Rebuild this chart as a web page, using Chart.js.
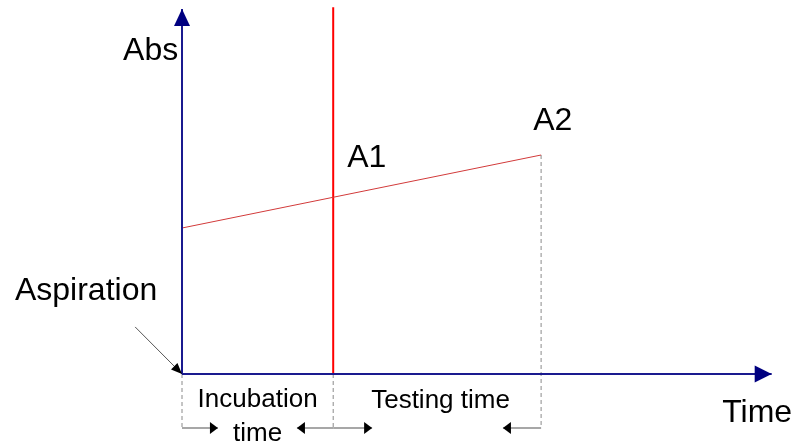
<!DOCTYPE html>
<html>
<head>
<meta charset="utf-8">
<script src="https://cdn.jsdelivr.net/npm/chart.js@4/dist/chart.umd.min.js"></script>
<style>
  html, body { margin: 0; padding: 0; background: #ffffff; }
  #diagram { display: block; }
</style>
</head>
<body>
<canvas id="diagram" width="797" height="443"></canvas>
<script>
// Timing diagram data (time units / absorbance units)
const aspirationTime = 0;
const incubationEnd = 4;        // A1 reading
const testingEnd = 9.5;         // A2 reading
const timeAxisEnd = 15.6;
const absAxisEnd = 10.0;
const redLineTop = 10.05;
const curveTime = [0, 9.5];
const curveAbs = [4.0, 6.0];
const bracketLevel = -1.48;

// interval arrows under the time axis: [from, to]
const intervalArrows = [[0, 0.95], [4, 3.04], [4, 5.03], [9.5, 8.49]];

// text labels
const labelTexts = ['Abs', 'Aspiration', 'A1', 'A2', 'Time', 'Incubation', 'time', 'Testing time'];
const labelX = [-0.1, -4.42, 4.37, 9.29, 14.29, 2.0, 2.0, 6.84];
const labelY = [8.6, 2.03, 5.67, 6.68, -1.32, -0.9, -1.84, -0.93];

// Aspiration pointer: from label to origin
const pointerX = [-1.24, 0];
const pointerY = [1.29, 0];

const bigFont = '32px "Liberation Sans", Arial, sans-serif';
const smallFont = '26px "Liberation Sans", Arial, sans-serif';
const labelFonts = [bigFont, bigFont, bigFont, bigFont, bigFont, smallFont, smallFont, smallFont];
const labelAlign = ['right', 'left', 'left', 'left', 'left', 'center', 'center', 'center'];

function pts(xs, ys) {
    return xs.map((x, i) => ({ x: x, y: ys[i] }));
}

const datasets = [];

// Axes
datasets.push({
    data: pts([aspirationTime, aspirationTime], [0, absAxisEnd]),
    borderColor: '#1a1a8f', borderWidth: 2,
    arrow: { length: 17, width: 16, color: '#000080' }
});
datasets.push({
    data: pts([aspirationTime, timeAxisEnd], [0, 0]),
    borderColor: '#1a1a8f', borderWidth: 2,
    arrow: { length: 17, width: 17, color: '#000080' }
});

// Absorbance curve
datasets.push({
    data: pts(curveTime, curveAbs),
    borderColor: '#d23a3a', borderWidth: 1
});

// Incubation end marker
datasets.push({
    data: pts([incubationEnd, incubationEnd], [0, redLineTop]),
    borderColor: '#ff0000', borderWidth: 2
});

// Dashed guides
[[aspirationTime, 0], [incubationEnd, 0], [testingEnd, curveAbs[1]]].forEach(([x, top]) => {
    datasets.push({
        data: pts([x, x], [top, bracketLevel]),
        borderColor: '#8a8a8a', borderWidth: 1, borderDash: [4, 3]
    });
});

// Interval arrows
intervalArrows.forEach(([a, b]) => {
    datasets.push({
        data: pts([a, b], [bracketLevel, bracketLevel]),
        borderColor: '#8a8a8a', borderWidth: 1.5,
        arrow: { length: 8, width: 12, color: '#000000' }
    });
});

// Aspiration pointer
datasets.push({
    data: pts(pointerX, pointerY),
    borderColor: '#555555', borderWidth: 1,
    arrow: { length: 11, width: 9, color: '#000000' }
});

datasets.forEach(ds => {
    ds.showLine = true;
    ds.pointRadius = 0;
    ds.fill = false;
    ds.tension = 0;
});

// Draw arrowheads at the end of datasets that ask for them, and text labels
const diagramPlugin = {
    id: 'diagram',
    afterDatasetsDraw(chart) {
        const ctx = chart.ctx;
        chart.data.datasets.forEach((ds, i) => {
            if (!ds.arrow) return;
            const meta = chart.getDatasetMeta(i);
            const n = meta.data.length;
            const p0 = meta.data[n - 2], p1 = meta.data[n - 1];
            const ang = Math.atan2(p1.y - p0.y, p1.x - p0.x);
            const len = ds.arrow.length, half = ds.arrow.width / 2;
            ctx.save();
            ctx.translate(p1.x, p1.y);
            ctx.rotate(ang);
            ctx.beginPath();
            ctx.moveTo(0, 0);
            ctx.lineTo(-len, -half);
            ctx.lineTo(-len, half);
            ctx.closePath();
            ctx.fillStyle = ds.arrow.color;
            ctx.fill();
            ctx.restore();
        });

        const xs = chart.scales.x, ys = chart.scales.y;
        ctx.save();
        ctx.fillStyle = '#000000';
        ctx.textBaseline = 'alphabetic';
        labelTexts.forEach((t, i) => {
            ctx.font = labelFonts[i];
            ctx.textAlign = labelAlign[i];
            ctx.fillText(t, xs.getPixelForValue(labelX[i]), ys.getPixelForValue(labelY[i]));
        });
        ctx.restore();
    }
};

new Chart(document.getElementById('diagram').getContext('2d'), {
    type: 'scatter',
    data: { datasets: datasets },
    options: {
        responsive: false,
        animation: false,
        layout: { padding: 0 },
        plugins: {
            legend: { display: false },
            tooltip: { enabled: false }
        },
        scales: {
            x: { type: 'linear', min: -4.815, max: 16.27, display: false },
            y: { type: 'linear', min: -1.89, max: 10.247, display: false }
        }
    },
    plugins: [diagramPlugin]
});
</script>
</body>
</html>
